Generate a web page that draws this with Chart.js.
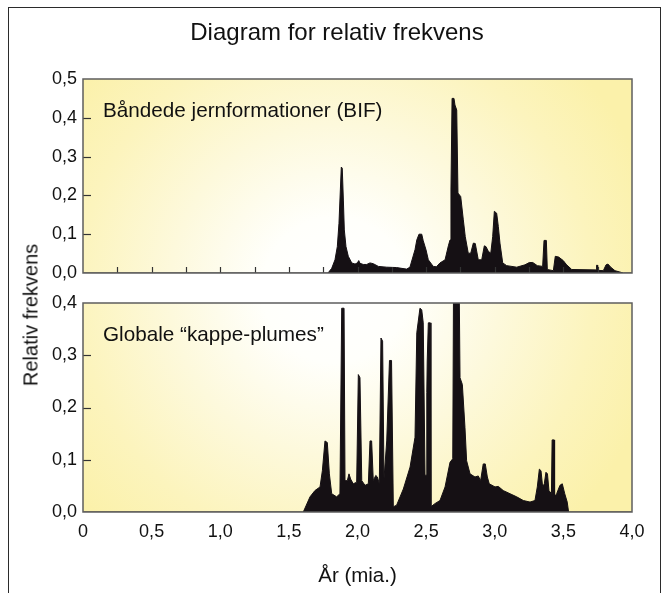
<!DOCTYPE html>
<html><head><meta charset="utf-8">
<script src="https://cdn.jsdelivr.net/npm/chart.js@4"></script>
<style>
html,body{margin:0;padding:0;background:#fff;width:665px;height:593px;overflow:hidden;}
#frame{position:absolute;left:8px;top:7px;width:653px;height:700px;border:1.5px solid #2b2b2b;box-sizing:border-box;}
canvas{position:absolute;left:0;top:0;}
#ytitle{position:absolute;left:31px;top:315px;transform:translate(-50%,-50%) rotate(-90deg);font:20px "Liberation Sans",Arial,sans-serif;white-space:nowrap;color:#111;}
</style></head><body>
<div id="frame"></div>
<canvas id="bot" width="665" height="593"></canvas>
<canvas id="top" width="665" height="300"></canvas>
<div id="ytitle"></div>
<script>
const chartTitle = 'Diagram for relativ frekvens';
const xTitle = 'År (mia.)';
const yTitle = 'Relativ frekvens';
const bifLabel = 'Båndede jernformationer (BIF)';
const plumeLabel = 'Globale “kappe-plumes”';

const bifAge = [0, 1.785, 1.812, 1.836, 1.853, 1.865, 1.875, 1.882, 1.889, 1.897, 1.904, 1.916, 1.933, 1.958, 1.982, 1.999, 2.009, 2.018, 2.042, 2.067, 2.091, 2.115, 2.152, 2.213, 2.285, 2.358, 2.382, 2.419, 2.432, 2.448, 2.468, 2.479, 2.499, 2.516, 2.552, 2.575, 2.601, 2.638, 2.662, 2.674, 2.681, 2.689, 2.703, 2.710, 2.723, 2.732, 2.752, 2.771, 2.785, 2.807, 2.825, 2.844, 2.858, 2.880, 2.905, 2.924, 2.936, 2.953, 2.971, 2.985, 2.997, 3.014, 3.026, 3.038, 3.058, 3.087, 3.160, 3.220, 3.252, 3.277, 3.310, 3.349, 3.359, 3.376, 3.383, 3.427, 3.441, 3.466, 3.499, 3.524, 3.561, 3.740, 3.742, 3.748, 3.750, 3.791, 3.811, 3.825, 3.845, 3.876, 3.937, 4.0];
const bifFreq = [0, 0, 0.012, 0.034, 0.068, 0.128, 0.214, 0.273, 0.270, 0.188, 0.111, 0.068, 0.043, 0.026, 0.023, 0.026, 0.032, 0.025, 0.022, 0.022, 0.026, 0.024, 0.017, 0.015, 0.014, 0.010, 0.015, 0.060, 0.085, 0.100, 0.100, 0.083, 0.060, 0.034, 0.017, 0.016, 0.026, 0.034, 0.070, 0.085, 0.214, 0.450, 0.450, 0.433, 0.420, 0.206, 0.197, 0.137, 0.094, 0.051, 0.051, 0.077, 0.076, 0.034, 0.034, 0.070, 0.068, 0.056, 0.051, 0.094, 0.159, 0.154, 0.120, 0.077, 0.026, 0.019, 0.015, 0.021, 0.027, 0.027, 0.019, 0.017, 0.084, 0.084, 0.009, 0.006, 0.043, 0.041, 0.032, 0.021, 0.009, 0.008, 0.020, 0.020, 0.007, 0.006, 0.021, 0.023, 0.015, 0.006, 0, 0];

const plumeAge = [0, 1.605, 1.654, 1.690, 1.727, 1.744, 1.763, 1.780, 1.795, 1.812, 1.848, 1.872, 1.885, 1.902, 1.909, 1.926, 1.938, 1.950, 1.969, 1.994, 2.006, 2.018, 2.031, 2.055, 2.079, 2.091, 2.103, 2.115, 2.133, 2.145, 2.159, 2.171, 2.183, 2.193, 2.213, 2.233, 2.248, 2.261, 2.285, 2.334, 2.383, 2.419, 2.432, 2.455, 2.468, 2.479, 2.492, 2.504, 2.505, 2.508, 2.516, 2.530, 2.535, 2.564, 2.601, 2.638, 2.674, 2.694, 2.699, 2.742, 2.747, 2.764, 2.783, 2.795, 2.820, 2.856, 2.880, 2.897, 2.916, 2.931, 2.946, 2.960, 3.002, 3.026, 3.062, 3.111, 3.160, 3.208, 3.257, 3.293, 3.310, 3.325, 3.337, 3.349, 3.361, 3.373, 3.384, 3.395, 3.413, 3.418, 3.432, 3.436, 3.451, 3.475, 3.492, 3.510, 3.528, 3.538, 4.0];
const plumeFreq = [0, 0, 0.029, 0.041, 0.048, 0.079, 0.136, 0.133, 0.073, 0.035, 0.029, 0.035, 0.390, 0.390, 0.060, 0.060, 0.073, 0.063, 0.054, 0.057, 0.263, 0.257, 0.060, 0.051, 0.054, 0.136, 0.136, 0.060, 0.070, 0.067, 0.054, 0.333, 0.327, 0.063, 0.136, 0.290, 0.290, 0.010, 0.013, 0.044, 0.086, 0.143, 0.343, 0.390, 0.387, 0.362, 0.070, 0.071, 0.229, 0.289, 0.362, 0.362, 0.010, 0.016, 0.022, 0.048, 0.095, 0.102, 0.400, 0.400, 0.257, 0.244, 0.162, 0.098, 0.073, 0.067, 0.069, 0.060, 0.092, 0.092, 0.067, 0.054, 0.048, 0.049, 0.041, 0.035, 0.029, 0.022, 0.019, 0.022, 0.048, 0.082, 0.079, 0.048, 0.054, 0.076, 0.073, 0.041, 0.035, 0.138, 0.138, 0.029, 0.035, 0.051, 0.054, 0.035, 0.019, 0, 0];

const FONT = '"Liberation Sans", Arial, Helvetica, sans-serif';
const INK = '#151014';
Chart.defaults.font.family = FONT;
Chart.defaults.color = '#111';

document.getElementById('ytitle').textContent = yTitle;

const commaFmt = v => (Math.abs(v) < 1e-9 ? 0 : v).toFixed(1).replace('.', ',');

const panelPlugin = {
  id: 'panel',
  beforeDraw(chart) {
    const {ctx, chartArea: a} = chart;
    const g = ctx.createRadialGradient(335, 290, 0, 335, 290, 330);
    g.addColorStop(0, '#ffffff');
    g.addColorStop(0.22, '#fffffb');
    g.addColorStop(0.5, '#fdf9dc');
    g.addColorStop(0.78, '#fcf4bd');
    g.addColorStop(1, '#fbf1aa');
    ctx.save();
    ctx.fillStyle = g;
    ctx.fillRect(a.left, a.top, a.width, a.height);
    ctx.restore();
  },
  afterDraw(chart, args, opts) {
    const {ctx, chartArea: a} = chart;
    const ys = chart.scales.y;
    ctx.save();
    ctx.strokeStyle = '#333';
    ctx.lineWidth = 1.2;
    ys.ticks.forEach(t => {
      if (t.value > ys.min + 1e-9 && t.value < ys.max - 1e-9) {
        const y = Math.round(ys.getPixelForValue(t.value)) + 0.5;
        ctx.beginPath(); ctx.moveTo(a.left, y); ctx.lineTo(a.left + 8, y); ctx.stroke();
      }
    });
    if (opts.xMinor) {
      const xs = chart.scales.x;
      for (let v = opts.xMinor; v < xs.max - 1e-9; v += opts.xMinor) {
        const x = Math.round(xs.getPixelForValue(v)) + 0.5;
        ctx.beginPath(); ctx.moveTo(x, a.bottom); ctx.lineTo(x, a.bottom - 6); ctx.stroke();
      }
    }
    ctx.strokeStyle = '#5e5e5e';
    ctx.lineWidth = 1.5;
    ctx.strokeRect(a.left, a.top, a.width, a.height);
    ctx.font = '20.7px ' + FONT;
    ctx.fillStyle = '#111';
    ctx.textBaseline = 'alphabetic';
    ctx.textAlign = 'left';
    ctx.fillText(opts.label, a.left + 20, a.top + 38);
    ctx.restore();
  }
};

function pts(xs, ys) { return xs.map((x, i) => ({x, y: ys[i]})); }

function ds(xs, ys) {
  return {
    data: pts(xs, ys),
    borderColor: INK, backgroundColor: INK, borderWidth: 1,
    pointRadius: 0, fill: 'origin', tension: 0
  };
}

new Chart(document.getElementById('top'), {
  type: 'line',
  data: { datasets: [ds(bifAge, bifFreq)] },
  plugins: [panelPlugin],
  options: {
    responsive: false, animation: false, events: [],
    layout: { padding: { top: 0, left: 42, right: 33, bottom: 27 } },
    plugins: {
      legend: { display: false }, tooltip: { enabled: false },
      title: { display: true, text: chartTitle, color: '#111', font: { size: 24, weight: 'normal' }, padding: { top: 19, bottom: 31.2 } },
      panel: { label: bifLabel, xMinor: 0.25 }
    },
    scales: {
      x: { type: 'linear', min: 0, max: 4, display: false },
      y: {
        min: 0, max: 0.5,
        afterFit: s => { s.width = 41; },
        ticks: { stepSize: 0.1, padding: 6, font: { size: 18 }, color: '#111', callback: commaFmt },
        grid: { display: false, drawTicks: false, tickLength: 0 },
        border: { display: false }
      }
    }
  }
});

new Chart(document.getElementById('bot'), {
  type: 'line',
  data: { datasets: [ds(plumeAge, plumeFreq)] },
  plugins: [panelPlugin],
  options: {
    responsive: false, animation: false, events: [],
    layout: { padding: { top: 303, left: 0, right: 33, bottom: 0 } },
    plugins: {
      legend: { display: false }, tooltip: { enabled: false },
      panel: { label: plumeLabel, xMinor: 0 }
    },
    scales: {
      x: {
        type: 'linear', min: 0, max: 4,
        afterFit: s => { s.height = 81; },
        ticks: { stepSize: 0.5, padding: 9, font: { size: 18 }, color: '#111', maxRotation: 0,
          callback: v => (Math.abs(v) < 1e-9 ? '0' : commaFmt(v)) },
        grid: { display: false, drawTicks: false, tickLength: 0 },
        border: { display: false },
        title: { display: true, text: xTitle, font: { size: 20.5 }, color: '#111', padding: { top: 0, bottom: 4 } }
      },
      y: {
        min: 0, max: 0.4,
        afterFit: s => { s.width = 83; },
        ticks: { stepSize: 0.1, padding: 6, font: { size: 18 }, color: '#111', callback: commaFmt },
        grid: { display: false, drawTicks: false, tickLength: 0 },
        border: { display: false }
      }
    }
  }
});
</script>
</body></html>
